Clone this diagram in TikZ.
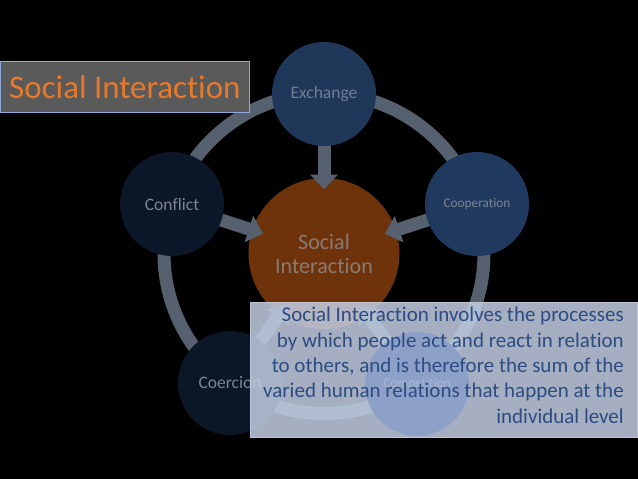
\documentclass[tikz,border=0pt]{standalone}
\usepackage{fontspec}
\setmainfont{Carlito}[Ligatures=NoCommon]
\usetikzlibrary{arrows.meta,calc}
\pgfdeclarelayer{back}
\pgfdeclarelayer{mid}
\pgfsetlayers{back,mid,main}
\definecolor{ringc}{HTML}{56606E}
\definecolor{exfill}{HTML}{1F385A}
\definecolor{cofill}{HTML}{1F3A5E}
\definecolor{cnfill}{HTML}{0C1729}
\definecolor{cefill}{HTML}{0B1626}
\definecolor{cpfill}{HTML}{8DA1C8}
\definecolor{cptext}{HTML}{A9B7D2}
\definecolor{ctrfill}{HTML}{6F330C}
\definecolor{ctrtext}{HTML}{8A7A72}
\definecolor{nodetext}{HTML}{7C8595}
\definecolor{extext}{HTML}{6F7E96}
\definecolor{titlefill}{HTML}{5A5A5A}
\definecolor{titleborder}{HTML}{8EA9DB}
\definecolor{titletext}{HTML}{E8782A}
\definecolor{boxfill}{HTML}{C2CEE3}
\definecolor{boxborder}{HTML}{BFC6D2}
\definecolor{boxtext}{HTML}{2C4C82}
\tikzset{
  outer/.style={circle, minimum size=104pt, inner sep=0pt, font=\fontsize{17.5}{20}\selectfont, text=nodetext},
  smallouter/.style={outer, font=\fontsize{13.3}{16}\selectfont},
  flowarrow/.style={draw=ringc, line width=13pt, -{Triangle[width=27pt,length=15pt]}, shorten <=40pt, shorten >=64pt},
}
\begin{document}
\begin{tikzpicture}[x=1pt,y=-1pt]
\useasboundingbox (0,0) rectangle (638,479);

% background, centre and ring
\begin{pgfonlayer}{back}
\fill[black] (0,0) rectangle (638,479);
\draw[ringc, line width=13pt] (324,253.5) circle[radius=160pt];
\node[circle, minimum size=151pt, inner sep=0pt, fill=ctrfill, text=ctrtext, align=center,
      font=\fontsize{22}{24}\selectfont] (ctr) at (324,253.5) {Social\\Interaction};
\end{pgfonlayer}

% outer circles
\node[outer, fill=exfill, text=extext] (ex) at (324,94) {Exchange};
\node[outer, fill=cnfill] (cn) at (172,204) {Conflict};
\node[smallouter, fill=cofill] (co) at (477,204) {Cooperation};
\node[outer, fill=cefill] (ce) at (230,383) {Coercion};
\coordinate (cppos) at (417,384);

% arrows toward the centre
\begin{pgfonlayer}{mid}
\draw[flowarrow] (ex.center) -- (ctr.center);
\draw[flowarrow] (cn.center) -- (ctr.center);
\draw[flowarrow] (co.center) -- (ctr.center);
\draw[flowarrow] (ce.center) -- (ctr.center);
\draw[flowarrow] (cppos) -- (ctr.center);
\end{pgfonlayer}

% title
\node[draw=titleborder, line width=0.8pt, fill=titlefill, text=titletext, anchor=north west,
      minimum width=249pt, minimum height=51pt, inner sep=0pt, text depth=0pt,
      font=\fontsize{33}{36}\selectfont] (title) at (0,61) {Social Interaction};

% description box
\path[fill=boxfill, fill opacity=0.85, draw=boxborder, line width=0.8pt] (250,302) rectangle (637,437);
\node[smallouter, fill=cpfill, text=cptext] (cp) at (cppos) {Competition};
\node[anchor=base east, align=right, text=boxtext, inner sep=0pt,
      font=\fontsize{21}{25.3}\selectfont] (desc) at (624,423)
  {Social Interaction involves the processes\\by which people act and react in relation\\to others, and is therefore the sum of the\\varied human relations that happen at the\\individual level};
\end{tikzpicture}
\end{document}
